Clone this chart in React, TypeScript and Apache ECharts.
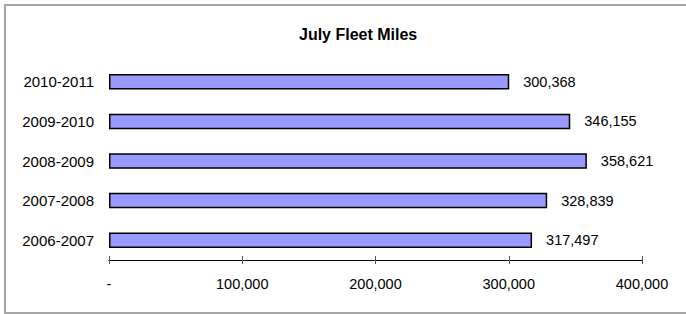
import React, { useEffect, useRef } from "react";
import * as echarts from "echarts";

const categories = ["2006-2007", "2007-2008", "2008-2009", "2009-2010", "2010-2011"];
const miles = [317497, 328839, 358621, 346155, 300368];
const tickValues = [0, 100000, 200000, 300000, 400000];
const titleText = "July Fleet Miles";

const FONT = "'Liberation Sans', Arial, sans-serif";

function fmt(v: number): string {
  if (v === 0) return "-";
  return v.toString().replace(/\B(?=(\d{3})+(?!\d))/g, ",");
}

export default function App() {
  const ref = useRef<HTMLDivElement>(null);
  useEffect(() => {
    if (!ref.current) return;
    const chart = echarts.init(ref.current, undefined, { renderer: "svg" });
    const xMin = tickValues[0];
    const xMax = tickValues[tickValues.length - 1];
    const interval = tickValues[1] - tickValues[0];
    chart.setOption({
      animation: false,
      backgroundColor: "#ffffff",
      textStyle: { fontFamily: FONT },
      title: {
        text: titleText,
        left: 294,
        top: 21,
        textStyle: { fontFamily: FONT, fontSize: 16, fontWeight: "bold", color: "#000" },
      },
      graphic: [
        {
          type: "rect",
          shape: { x: 5, y: 5, width: 700, height: 308 },
          style: { fill: "none", stroke: "#a6a6a6", lineWidth: 2 },
          silent: true,
          z: -1,
        },
      ],
      grid: { left: 109, right: 44, top: 62, bottom: 54, containLabel: false },
      xAxis: [
        {
          type: "value",
          min: xMin,
          max: xMax,
          interval: interval,
          position: "bottom",
          splitLine: { show: false },
          axisLine: { show: true, lineStyle: { color: "#000", width: 1 } },
          axisTick: { show: true, inside: false, length: 4, lineStyle: { color: "#555", width: 1 } },
          axisLabel: {
            margin: 16,
            fontFamily: FONT,
            fontSize: 14.5,
            color: "#000",
            formatter: (v: number) => fmt(v),
          },
        },
        {
          type: "value",
          min: xMin,
          max: xMax,
          interval: interval,
          position: "bottom",
          splitLine: { show: false },
          axisLine: { show: false },
          axisTick: { show: true, inside: true, length: 4, lineStyle: { color: "#555", width: 1 } },
          axisLabel: { show: false },
        },
      ],
      yAxis: {
        type: "category",
        data: categories,
        axisLine: { show: false },
        axisTick: { show: false },
        splitLine: { show: false },
        axisLabel: {
          margin: 15,
          fontFamily: FONT,
          fontSize: 15,
          color: "#000",
        },
      },
      series: [
        {
          type: "bar",
          data: miles,
          barWidth: 15.5,
          itemStyle: { color: "#9999ff", borderColor: "#000", borderWidth: 1.5 },
          label: {
            show: true,
            position: "right",
            distance: 14,
            fontFamily: FONT,
            fontSize: 14.5,
            color: "#000",
            formatter: (p: any) => fmt(p.value),
          },
        },
      ],
    });
    return () => chart.dispose();
  }, []);
  return (
    <div
      ref={ref}
      style={{ position: "absolute", left: 0, top: 0, width: 686, height: 314 }}
    />
  );
}
